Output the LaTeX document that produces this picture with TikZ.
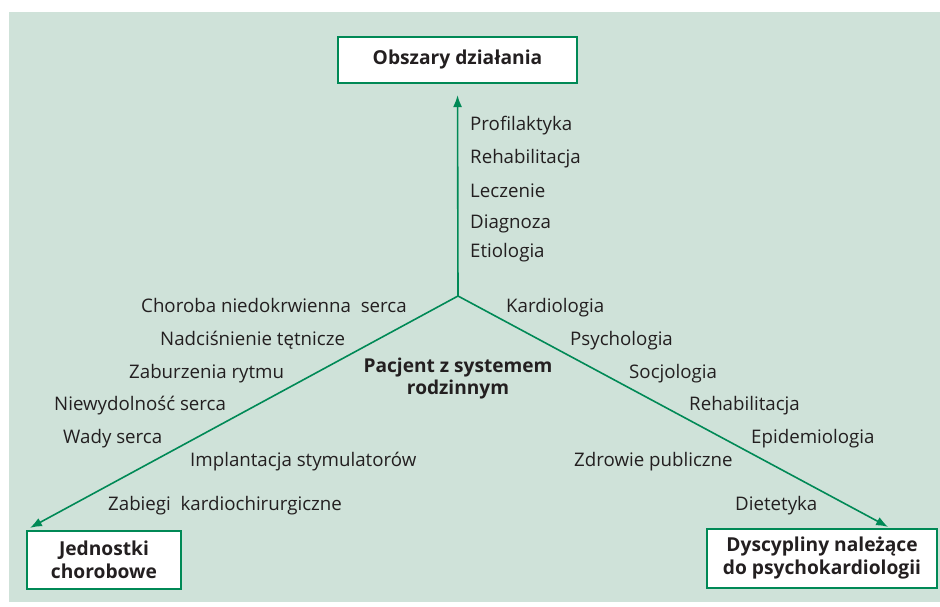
\documentclass[tikz,border=0pt]{standalone}
\usepackage{fontspec}
\setmainfont{Open Sans}
\usetikzlibrary{arrows.meta}
\definecolor{bggreen}{RGB}{207,226,217}
\definecolor{linegreen}{RGB}{0,137,86}
\definecolor{txtgray}{RGB}{35,31,32}
\begin{document}
\begin{tikzpicture}[x=1pt,y=-1pt,
  box/.style={draw=linegreen, line width=2.2pt, fill=white, text=txtgray, align=center, inner sep=0pt,
    font=\bfseries\fontsize{19.2}{23}\selectfont},
  lbl/.style={anchor=base west, inner sep=0pt, text=txtgray, font=\fontsize{18.7}{22}\selectfont},
  mid/.style={inner sep=0pt, text=txtgray, align=center, font=\bfseries\fontsize{19.1}{22}\selectfont},
  arr/.style={draw=linegreen, line width=1.6pt, -{Latex[length=12pt,width=9pt]}}]
\useasboundingbox (0,0) rectangle (940,607);
\fill[bggreen] (9,12) rectangle (940,602);

\node[box, minimum width=239pt, minimum height=46pt] (obszary) at (457.5,60) {Obszary działania};
\node[box, minimum width=154pt, minimum height=58pt] (jednostki) at (104,560) {Jednostki\\chorobowe};
\node[box, minimum width=230pt, minimum height=59pt] (dyscypliny) at (822,558.5) {Dyscypliny należące\\do psychokardiologii};
\coordinate (hub) at (458,296);
\node[mid, anchor=base] (pacjent) at (458,394) {Pacjent z systemem\\rodzinnym};

\node[lbl] (t1) at (470,131) {Profilaktyka};
\node[lbl] (t2) at (470,164) {Rehabilitacja};
\node[lbl] (t3) at (470,197) {Leczenie};
\node[lbl] (t4) at (470,228) {Diagnoza};
\node[lbl] (t5) at (470,257) {Etiologia};

\node[lbl] (l1) at (141,312) {Choroba niedokrwienna\ \ serca};
\node[lbl] (l2) at (160,345) {Nadciśnienie tętnicze};
\node[lbl] (l3) at (129,378) {Zaburzenia rytmu};
\node[lbl] (l4) at (54,410) {Niewydolność serca};
\node[lbl] (l5) at (63,443) {Wady serca};
\node[lbl] (l6) at (190,466) {Implantacja stymulatorów};
\node[lbl] (l7) at (108,510) {Zabiegi\ \ kardiochirurgiczne};

\node[lbl] (r1) at (506,312) {Kardiologia};
\node[lbl] (r2) at (570,345) {Psychologia};
\node[lbl] (r3) at (629,378) {Socjologia};
\node[lbl] (r4) at (689,410) {Rehabilitacja};
\node[lbl] (r5) at (751,443) {Epidemiologia};
\node[lbl] (r6) at (574,466) {Zdrowie publiczne};
\node[lbl] (r7) at (735,510) {Dietetyka};

\path[arr, shorten >=11pt] (hub) -- (obszary.south);
\path[arr] (hub) -- ([xshift=4pt,yshift=2pt]jednostki.north west);
\path[arr] (hub) -- ([xshift=-50pt,yshift=1pt]dyscypliny.north east);
\end{tikzpicture}
\end{document}
